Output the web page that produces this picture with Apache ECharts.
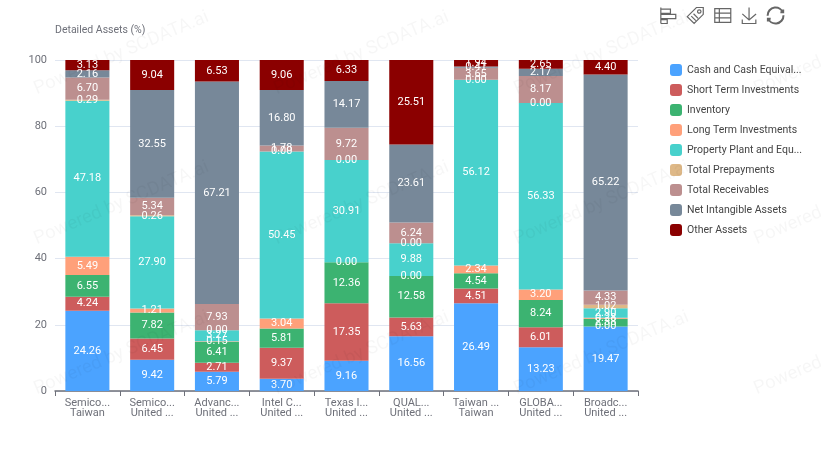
<!DOCTYPE html>
<html>
<head>
<meta charset="utf-8">
<style>html,body{margin:0;padding:0;background:#fff}#c{width:821px;height:458px}</style>
<script src="https://cdn.jsdelivr.net/npm/echarts@6/dist/echarts.min.js"></script>
</head>
<body>
<div id="c"></div>
<script>
const companies = ["Semico...","Semico...","Advanc...","Intel C...","Texas I...","QUAL...","Taiwan ...","GLOBA...","Broadc..."];
const regions = ["Taiwan","United ...","United ...","United ...","United ...","United ...","Taiwan","United ...","United ..."];
const cash = [24.26,9.42,5.79,3.70,9.16,16.56,26.49,13.23,19.47];
const shortTerm = [4.24,6.45,2.71,9.37,17.35,5.63,4.51,6.01,0.00];
const inventory = [6.55,7.82,6.41,5.81,12.36,12.58,4.54,8.24,2.38];
const longTerm = [5.49,1.21,0.15,3.04,0.00,0.00,2.34,3.20,0.28];
const ppe = [47.18,27.90,3.27,50.45,30.91,9.88,56.12,56.33,2.90];
const prepay = [0.29,0.26,0.00,0.00,0.00,0.00,0.00,0.00,1.02];
const receivables = [6.70,5.34,7.93,1.78,9.72,6.24,3.65,8.17,4.33];
const intangible = [2.16,32.55,67.21,16.80,14.17,23.61,0.41,2.17,65.22];
const other = [3.13,9.04,6.53,9.06,6.33,25.51,1.94,2.65,4.40];
const seriesNames = ["Cash and Cash Equivalents","Short Term Investments","Inventory","Long Term Investments","Property Plant and Equipment","Total Prepayments","Total Receivables","Net Intangible Assets","Other Assets"];
const seriesData = [cash,shortTerm,inventory,longTerm,ppe,prepay,receivables,intangible,other];
const colors = ["#4ba3ff","#cd5c5c","#3cb371","#ffa07a","#48d1cc","#deb887","#bc8f8f","#778899","#8b0000"];
const font = 'Roboto,"Noto Sans",sans-serif';

const watermarks = [];
for (let r = 0; r < 3; r++) for (let k = 0; k < 4; k++) {
  watermarks.push({
    type:'text', x:35+240*k, y:90+150*r, rotation:23*Math.PI/180, z:100, silent:true,
    style:{text:'Powered by SCDATA.ai', font:'18.5px '+font, fill:'rgba(0,0,0,0.035)', textVerticalAlign:'middle'}
  });
}

const chart = echarts.init(document.getElementById('c'), null, {renderer:'canvas'});
chart.setOption({
  animation:false,
  color:colors,
  textStyle:{fontFamily:font},
  graphic:watermarks,
  grid:{left:55,right:183,top:60,bottom:67,containLabel:false},
  toolbox:{
    right:20, top:-10, itemSize:16, itemGap:6.5,
    iconStyle:{borderColor:'#666', color:'none', borderWidth:1.2},
    feature:{
      myAlign:{show:true,title:'Align',icon:'path://M2 1V31M2 4H20V12H2M2 14H30V22H2M2 24H14V31H2',onclick(){}},
      myTag:{show:true,title:'Labels',icon:'path://M18 2H30V14L14 30L2 18ZM23 6A3 3 0 1 0 23.01 6M9 17L17 25M13 13L21 21',onclick(){}},
      myTable:{show:true,title:'Data',icon:'path://M2 4H30V28H2ZM2 12H30M2 20H30M10 4V28',onclick(){}},
      saveAsImage:{show:true},
      restore:{show:true,iconStyle:{borderWidth:2}}
    }
  },
  legend:{
    orient:'vertical', left:665, top:59, itemWidth:12, itemHeight:12, itemGap:8,
    icon:'roundRect',
    textStyle:{color:'#444',fontSize:10.5,width:116,overflow:'truncate',ellipsis:'...'},
    data:seriesNames
  },
  xAxis:{
    type:'category',
    data:companies.map((c,i)=>c+'\n'+regions[i]),
    axisLine:{lineStyle:{color:'#6E7079',width:1.5}},
    axisTick:{show:true,alignWithLabel:false,length:5,lineStyle:{color:'#6E7079'}},
    axisLabel:{color:'#6E7079',fontSize:11,lineHeight:10,interval:0,margin:7}
  },
  yAxis:{
    type:'value',min:0,max:100,interval:20,
    name:'Detailed Assets (%)',
    nameGap:24,
    nameTextStyle:{color:'#6E7079',fontSize:10.5,align:'left'},
    axisLabel:{color:'#6E7079',fontSize:11},
    splitLine:{lineStyle:{color:'#E0E6F1'}}
  },
  series:seriesNames.map((n,i)=>({
    name:n,type:'bar',stack:'total',barWidth:'68%',
    data:seriesData[i],
    label:{show:true,position:'inside',color:'#fff',fontSize:11,formatter:p=>p.value.toFixed(2)}
  }))
});
</script>
</body>
</html>
